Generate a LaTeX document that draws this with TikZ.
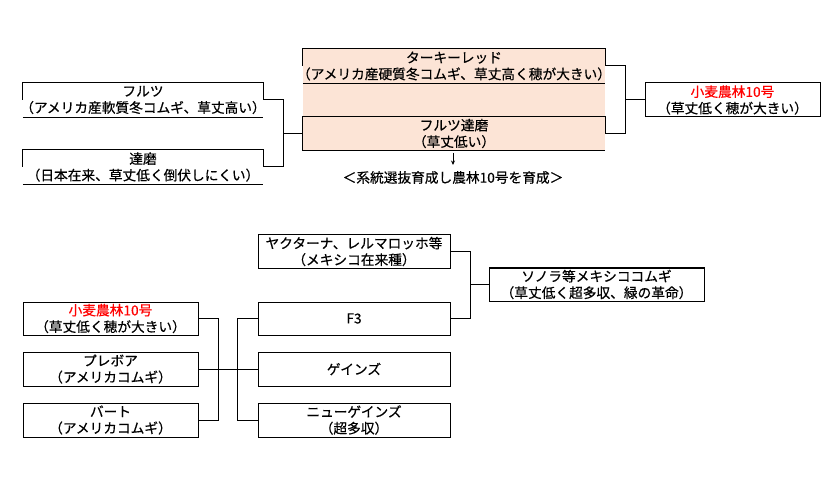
\documentclass[tikz,border=0pt]{standalone}
\usepackage{fontspec}
\newfontfamily\jp[FakeBold=0.5]{Noto Sans CJK JP}
\usetikzlibrary{backgrounds,arrows.meta}
\definecolor{peach}{HTML}{FCE4D6}
\definecolor{redtxt}{HTML}{FF0000}
\newcommand\zw[1]{\makebox[0pt]{#1}}
\begin{document}
\begin{tikzpicture}[x=1pt,y=-1pt,
  box/.style={minimum height=#1, inner sep=0pt, align=center,
    font=\jp\fontsize{13.7}{16.5}\selectfont},
  box/.default=34pt,
  fullbox/.style={box, draw, line width=1pt},
  line/.style={line width=1pt},
  every node/.append style={text=black}]
\useasboundingbox (0,0) rectangle (840,486);

% ---------- upper section ----------
\node[box, minimum width=240pt] (fruz) at (143,100) {\zw{フルツ}\\\zw{（アメリカ産軟質冬コムギ、草丈高い）}};
\node[box, minimum width=240pt] (daruma) at (143,167) {\zw{達磨}\\\zw{（日本在来、草丈低く倒伏しにくい）}};
\node[box, minimum width=302pt] (turkey) at (454,66) {\zw{ターキーレッド}\\\zw{（アメリカ産硬質冬コムギ、草丈高く穂が大きい）}};
\node[box, minimum width=302pt, minimum height=33pt] (fd) at (454,133.5) {\zw{フルツ達磨}\\\zw{（草丈低い）}};
\node[fullbox, minimum width=175pt] (norin) at (732.5,100) {\zw{\color{redtxt}小麦農林10号}\\\zw{（草丈低く穂が大きい）}};
\node[inner sep=0pt, font=\jp\fontsize{13.7}{16.5}\selectfont] (note) at (453,177.5) {＜系統選抜育成し農林10号を育成＞};

\begin{scope}[on background layer]
  \fill[peach] (turkey.north west) rectangle (fd.south east);
\end{scope}

% partial borders (as in the reference)
\draw[line] (fruz.west) -- (fruz.north west) -- (fruz.north east) -- (fruz.east);
\draw[line] (fruz.south west) -- (fruz.south east);
\draw[line] (daruma.west) -- (daruma.north west) -- (daruma.north east) -- (daruma.east);
\draw[line] (daruma.south west) -- (daruma.south east);
\draw[line] (turkey.west) -- (turkey.north west) -- (turkey.north east) -- (turkey.east);
\draw[line] (turkey.south west) -- (turkey.south east);
\draw[line] (fd.east) -- (fd.north east) -- (fd.north west) -- (fd.south west) -- (fd.south east);

% connectors
\draw[line] (fruz.east) -- ++(20,0) |- (daruma.east);
\draw[line] (fd.west) -- ++(-20,0);
\draw[line] (turkey.east) -- ++(20,0) |- (fd.east);
\draw[line] (norin.west) -- ++(-20,0);
\coordinate (a1) at (453,153);
\coordinate (a2) at (453,165);
\draw[-{Stealth[length=4.5pt,width=4pt]}, line width=0.8pt] (a1) -- (a2);

% ---------- lower section ----------
\node[fullbox, minimum width=192pt, minimum height=33pt] (yak) at (354,251.5) {\zw{ヤクターナ、レルマロッホ等}\\\zw{（メキシコ在来種）}};
\node[fullbox, minimum width=215pt, minimum height=33pt] (sonora) at (596.5,284.5) {\zw{ソノラ等メキシココムギ}\\\zw{（草丈低く超多収、緑の革命）}};
\node[fullbox, minimum width=192pt, minimum height=33pt] (f3) at (354,318.5) {F3};
\node[fullbox, minimum width=192pt] (gains) at (354,369) {ゲインズ};
\node[fullbox, minimum width=192pt] (newgains) at (354,420) {\zw{ニューゲインズ}\\\zw{（超多収）}};
\node[fullbox, minimum width=175pt, minimum height=33pt] (norin2) at (110.5,318.5) {\zw{\color{redtxt}小麦農林10号}\\\zw{（草丈低く穂が大きい）}};
\node[fullbox, minimum width=175pt] (prebor) at (110.5,369) {\zw{プレボア}\\\zw{（アメリカコムギ）}};
\node[fullbox, minimum width=175pt] (bart) at (110.5,420) {\zw{バート}\\\zw{（アメリカコムギ）}};

\draw[line] (yak.east) -- ++(20,0) |- (f3.east);
\draw[line] (sonora.west) -- ++(-19,0);
\draw[line] (norin2.east) -- ++(20,0) |- (bart.east);
\draw[line] (prebor.east) -- (gains.west);
\draw[line] (f3.west) -- ++(-20,0) |- (newgains.west);
\end{tikzpicture}
\end{document}
